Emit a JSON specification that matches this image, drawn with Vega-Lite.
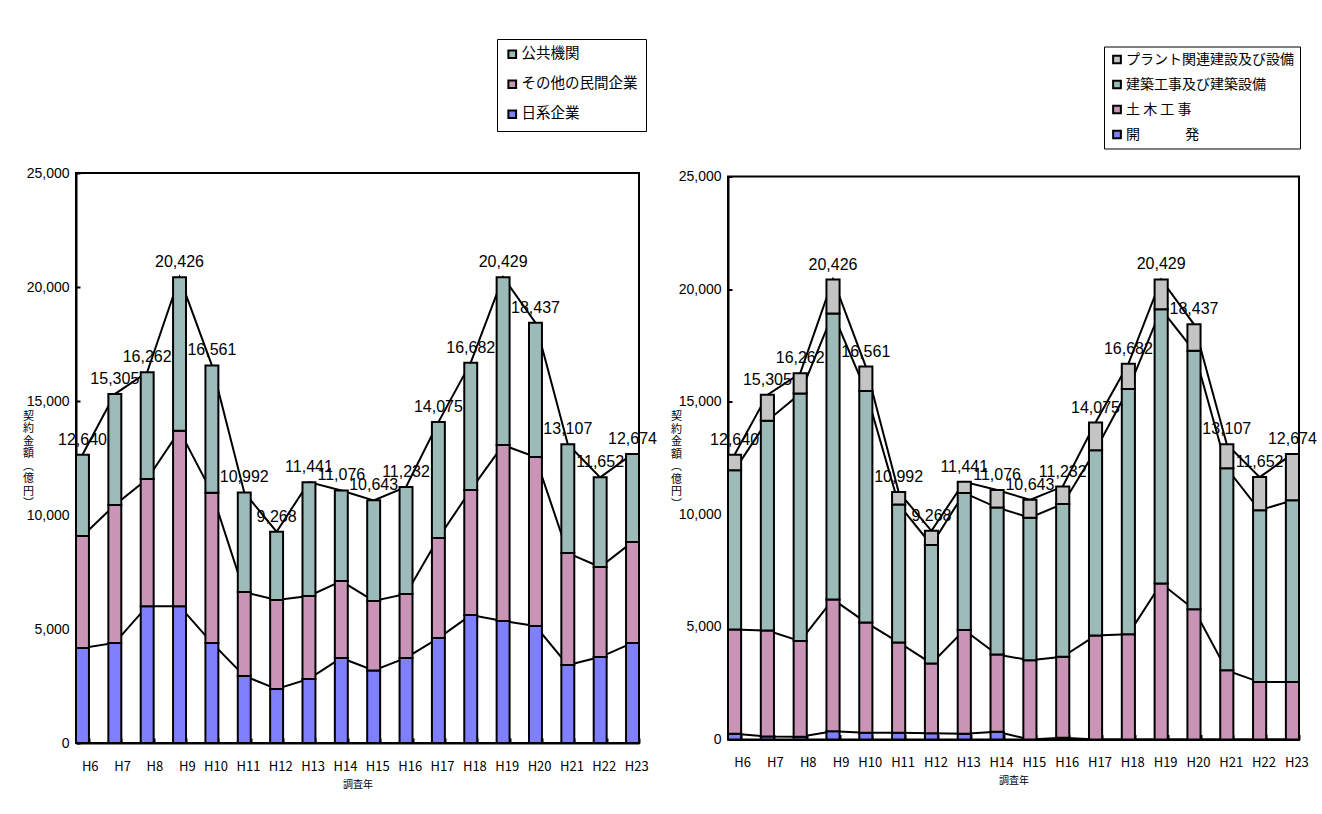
{
  "$schema": "https://vega.github.io/schema/vega-lite/v6.json",
  "background": "white",
  "padding": {"left": 21, "top": 37, "right": 5, "bottom": 5},
  "spacing": 89,
  "bounds": "flush",
  "center": true,
  "datasets": {
    "left": [
      {"yr": "H6", "s": "日系企業", "k": 1, "v": 4170}, {"yr": "H6", "s": "その他の民間企業", "k": 2, "v": 4910}, {"yr": "H6", "s": "公共機関", "k": 3, "v": 3560},
      {"yr": "H7", "s": "日系企業", "k": 1, "v": 4390}, {"yr": "H7", "s": "その他の民間企業", "k": 2, "v": 6050}, {"yr": "H7", "s": "公共機関", "k": 3, "v": 4865},
      {"yr": "H8", "s": "日系企業", "k": 1, "v": 6000}, {"yr": "H8", "s": "その他の民間企業", "k": 2, "v": 5580}, {"yr": "H8", "s": "公共機関", "k": 3, "v": 4682},
      {"yr": "H9", "s": "日系企業", "k": 1, "v": 6000}, {"yr": "H9", "s": "その他の民間企業", "k": 2, "v": 7700}, {"yr": "H9", "s": "公共機関", "k": 3, "v": 6726},
      {"yr": "H10", "s": "日系企業", "k": 1, "v": 4390}, {"yr": "H10", "s": "その他の民間企業", "k": 2, "v": 6590}, {"yr": "H10", "s": "公共機関", "k": 3, "v": 5581},
      {"yr": "H11", "s": "日系企業", "k": 1, "v": 2940}, {"yr": "H11", "s": "その他の民間企業", "k": 2, "v": 3680}, {"yr": "H11", "s": "公共機関", "k": 3, "v": 4372},
      {"yr": "H12", "s": "日系企業", "k": 1, "v": 2370}, {"yr": "H12", "s": "その他の民間企業", "k": 2, "v": 3900}, {"yr": "H12", "s": "公共機関", "k": 3, "v": 2998},
      {"yr": "H13", "s": "日系企業", "k": 1, "v": 2810}, {"yr": "H13", "s": "その他の民間企業", "k": 2, "v": 3640}, {"yr": "H13", "s": "公共機関", "k": 3, "v": 4991},
      {"yr": "H14", "s": "日系企業", "k": 1, "v": 3730}, {"yr": "H14", "s": "その他の民間企業", "k": 2, "v": 3370}, {"yr": "H14", "s": "公共機関", "k": 3, "v": 3976},
      {"yr": "H15", "s": "日系企業", "k": 1, "v": 3180}, {"yr": "H15", "s": "その他の民間企業", "k": 2, "v": 3050}, {"yr": "H15", "s": "公共機関", "k": 3, "v": 4413},
      {"yr": "H16", "s": "日系企業", "k": 1, "v": 3730}, {"yr": "H16", "s": "その他の民間企業", "k": 2, "v": 2810}, {"yr": "H16", "s": "公共機関", "k": 3, "v": 4692},
      {"yr": "H17", "s": "日系企業", "k": 1, "v": 4600}, {"yr": "H17", "s": "その他の民間企業", "k": 2, "v": 4390}, {"yr": "H17", "s": "公共機関", "k": 3, "v": 5085},
      {"yr": "H18", "s": "日系企業", "k": 1, "v": 5610}, {"yr": "H18", "s": "その他の民間企業", "k": 2, "v": 5490}, {"yr": "H18", "s": "公共機関", "k": 3, "v": 5582},
      {"yr": "H19", "s": "日系企業", "k": 1, "v": 5350}, {"yr": "H19", "s": "その他の民間企業", "k": 2, "v": 7720}, {"yr": "H19", "s": "公共機関", "k": 3, "v": 7359},
      {"yr": "H20", "s": "日系企業", "k": 1, "v": 5130}, {"yr": "H20", "s": "その他の民間企業", "k": 2, "v": 7410}, {"yr": "H20", "s": "公共機関", "k": 3, "v": 5897},
      {"yr": "H21", "s": "日系企業", "k": 1, "v": 3420}, {"yr": "H21", "s": "その他の民間企業", "k": 2, "v": 4910}, {"yr": "H21", "s": "公共機関", "k": 3, "v": 4777},
      {"yr": "H22", "s": "日系企業", "k": 1, "v": 3770}, {"yr": "H22", "s": "その他の民間企業", "k": 2, "v": 3950}, {"yr": "H22", "s": "公共機関", "k": 3, "v": 3932},
      {"yr": "H23", "s": "日系企業", "k": 1, "v": 4390}, {"yr": "H23", "s": "その他の民間企業", "k": 2, "v": 4430}, {"yr": "H23", "s": "公共機関", "k": 3, "v": 3854}
    ],
    "right": [
      {"yr": "H6", "s": "開　　　 発", "k": 1, "v": 250}, {"yr": "H6", "s": "土 木 工 事", "k": 2, "v": 4640}, {"yr": "H6", "s": "建築工事及び建築設備", "k": 3, "v": 7070}, {"yr": "H6", "s": "プラント関連建設及び設備", "k": 4, "v": 680},
      {"yr": "H7", "s": "開　　　 発", "k": 1, "v": 130}, {"yr": "H7", "s": "土 木 工 事", "k": 2, "v": 4710}, {"yr": "H7", "s": "建築工事及び建築設備", "k": 3, "v": 9310}, {"yr": "H7", "s": "プラント関連建設及び設備", "k": 4, "v": 1155},
      {"yr": "H8", "s": "開　　　 発", "k": 1, "v": 120}, {"yr": "H8", "s": "土 木 工 事", "k": 2, "v": 4250}, {"yr": "H8", "s": "建築工事及び建築設備", "k": 3, "v": 10990}, {"yr": "H8", "s": "プラント関連建設及び設備", "k": 4, "v": 902},
      {"yr": "H9", "s": "開　　　 発", "k": 1, "v": 370}, {"yr": "H9", "s": "土 木 工 事", "k": 2, "v": 5850}, {"yr": "H9", "s": "建築工事及び建築設備", "k": 3, "v": 12700}, {"yr": "H9", "s": "プラント関連建設及び設備", "k": 4, "v": 1506},
      {"yr": "H10", "s": "開　　　 発", "k": 1, "v": 300}, {"yr": "H10", "s": "土 木 工 事", "k": 2, "v": 4900}, {"yr": "H10", "s": "建築工事及び建築設備", "k": 3, "v": 10280}, {"yr": "H10", "s": "プラント関連建設及び設備", "k": 4, "v": 1081},
      {"yr": "H11", "s": "開　　　 発", "k": 1, "v": 300}, {"yr": "H11", "s": "土 木 工 事", "k": 2, "v": 4010}, {"yr": "H11", "s": "建築工事及び建築設備", "k": 3, "v": 6130}, {"yr": "H11", "s": "プラント関連建設及び設備", "k": 4, "v": 552},
      {"yr": "H12", "s": "開　　　 発", "k": 1, "v": 280}, {"yr": "H12", "s": "土 木 工 事", "k": 2, "v": 3100}, {"yr": "H12", "s": "建築工事及び建築設備", "k": 3, "v": 5260}, {"yr": "H12", "s": "プラント関連建設及び設備", "k": 4, "v": 628},
      {"yr": "H13", "s": "開　　　 発", "k": 1, "v": 250}, {"yr": "H13", "s": "土 木 工 事", "k": 2, "v": 4610}, {"yr": "H13", "s": "建築工事及び建築設備", "k": 3, "v": 6090}, {"yr": "H13", "s": "プラント関連建設及び設備", "k": 4, "v": 491},
      {"yr": "H14", "s": "開　　　 発", "k": 1, "v": 340}, {"yr": "H14", "s": "土 木 工 事", "k": 2, "v": 3430}, {"yr": "H14", "s": "建築工事及び建築設備", "k": 3, "v": 6530}, {"yr": "H14", "s": "プラント関連建設及び設備", "k": 4, "v": 776},
      {"yr": "H15", "s": "開　　　 発", "k": 1, "v": 0}, {"yr": "H15", "s": "土 木 工 事", "k": 2, "v": 3520}, {"yr": "H15", "s": "建築工事及び建築設備", "k": 3, "v": 6330}, {"yr": "H15", "s": "プラント関連建設及び設備", "k": 4, "v": 793},
      {"yr": "H16", "s": "開　　　 発", "k": 1, "v": 80}, {"yr": "H16", "s": "土 木 工 事", "k": 2, "v": 3590}, {"yr": "H16", "s": "建築工事及び建築設備", "k": 3, "v": 6790}, {"yr": "H16", "s": "プラント関連建設及び設備", "k": 4, "v": 772},
      {"yr": "H17", "s": "開　　　 発", "k": 1, "v": 0}, {"yr": "H17", "s": "土 木 工 事", "k": 2, "v": 4620}, {"yr": "H17", "s": "建築工事及び建築設備", "k": 3, "v": 8220}, {"yr": "H17", "s": "プラント関連建設及び設備", "k": 4, "v": 1235},
      {"yr": "H18", "s": "開　　　 発", "k": 1, "v": 0}, {"yr": "H18", "s": "土 木 工 事", "k": 2, "v": 4670}, {"yr": "H18", "s": "建築工事及び建築設備", "k": 3, "v": 10890}, {"yr": "H18", "s": "プラント関連建設及び設備", "k": 4, "v": 1122},
      {"yr": "H19", "s": "開　　　 発", "k": 1, "v": 0}, {"yr": "H19", "s": "土 木 工 事", "k": 2, "v": 6930}, {"yr": "H19", "s": "建築工事及び建築設備", "k": 3, "v": 12180}, {"yr": "H19", "s": "プラント関連建設及び設備", "k": 4, "v": 1319},
      {"yr": "H20", "s": "開　　　 発", "k": 1, "v": 0}, {"yr": "H20", "s": "土 木 工 事", "k": 2, "v": 5780}, {"yr": "H20", "s": "建築工事及び建築設備", "k": 3, "v": 11480}, {"yr": "H20", "s": "プラント関連建設及び設備", "k": 4, "v": 1177},
      {"yr": "H21", "s": "開　　　 発", "k": 1, "v": 0}, {"yr": "H21", "s": "土 木 工 事", "k": 2, "v": 3070}, {"yr": "H21", "s": "建築工事及び建築設備", "k": 3, "v": 8970}, {"yr": "H21", "s": "プラント関連建設及び設備", "k": 4, "v": 1067},
      {"yr": "H22", "s": "開　　　 発", "k": 1, "v": 0}, {"yr": "H22", "s": "土 木 工 事", "k": 2, "v": 2550}, {"yr": "H22", "s": "建築工事及び建築設備", "k": 3, "v": 7630}, {"yr": "H22", "s": "プラント関連建設及び設備", "k": 4, "v": 1472},
      {"yr": "H23", "s": "開　　　 発", "k": 1, "v": 0}, {"yr": "H23", "s": "土 木 工 事", "k": 2, "v": 2550}, {"yr": "H23", "s": "建築工事及び建築設備", "k": 3, "v": 8070}, {"yr": "H23", "s": "プラント関連建設及び設備", "k": 4, "v": 2054}
    ],
    "totals": [
      {"yr": "H6", "t": 12640}, {"yr": "H7", "t": 15305}, {"yr": "H8", "t": 16262}, {"yr": "H9", "t": 20426},
      {"yr": "H10", "t": 16561}, {"yr": "H11", "t": 10992}, {"yr": "H12", "t": 9268}, {"yr": "H13", "t": 11441},
      {"yr": "H14", "t": 11076}, {"yr": "H15", "t": 10643}, {"yr": "H16", "t": 11232}, {"yr": "H17", "t": 14075},
      {"yr": "H18", "t": 16682}, {"yr": "H19", "t": 20429}, {"yr": "H20", "t": 18437}, {"yr": "H21", "t": 13107},
      {"yr": "H22", "t": 11652}, {"yr": "H23", "t": 12674}
    ]
  },
  "hconcat": [
    {
      "width": 563,
      "height": 570,
      "layer": [
        {
          "data": {"name": "left"},
          "transform": [{"stack": "v", "groupby": ["yr"], "sort": [{"field": "k"}], "as": ["v0", "v1"]}],
          "mark": {"type": "line", "color": "black", "strokeWidth": 2},
          "encoding": {
            "x": {"field": "yr", "type": "nominal", "sort": ["H6","H7","H8","H9","H10","H11","H12","H13","H14","H15","H16","H17","H18","H19","H20","H21","H22","H23"]},
            "y": {"field": "v1", "type": "quantitative"},
            "detail": {"field": "s"}
          }
        },
        {
          "data": {"name": "left"},
          "transform": [{"stack": "v", "groupby": ["yr"], "sort": [{"field": "k"}], "as": ["v0", "v1"]}],
          "mark": {"type": "bar", "stroke": "black", "strokeWidth": 2},
          "encoding": {
            "x": {"field": "yr", "type": "nominal", "sort": ["H6","H7","H8","H9","H10","H11","H12","H13","H14","H15","H16","H17","H18","H19","H20","H21","H22","H23"],
              "scale": {"paddingInner": 0.6, "paddingOuter": 0},
              "axis": {"title": "調査年", "labelAngle": 0, "tickBand": "extent", "tickSize": -5, "labelOffset": 15.6, "labelPadding": 28, "labelFontSize": 13, "titleFontSize": 10, "titlePadding": 6}},
            "y": {"field": "v0", "type": "quantitative",
              "scale": {"domain": [0, 25000], "nice": false},
              "axis": {"values": [0, 5000, 10000, 15000, 20000, 25000], "format": ",.0f", "tickSize": -4, "labelPadding": 11, "labelFontSize": 14, "labelFont": "Liberation Sans",
                "title": ["契", "約", "金", "額", "︵", "億", "円", "︶"], "titleAngle": 0, "titleX": -48, "titleY": 237, "titleAlign": "center", "titleBaseline": "top", "titleFontSize": 11, "titleLineHeight": 12.5}},
            "y2": {"field": "v1"},
            "color": {"field": "s", "type": "nominal",
              "scale": {"domain": ["公共機関", "その他の民間企業", "日系企業"], "range": ["#9BBAB8", "#C994B6", "#8080FF"]},
              "legend": {"title": null, "orient": "none", "legendX": 421, "legendY": -134, "strokeColor": "black", "padding": 8, "labelFontSize": 14.5, "rowPadding": 13, "labelOffset": 2,
                "symbolType": "square", "symbolSize": 60, "symbolStrokeColor": "black", "symbolStrokeWidth": 2, "labelLimit": 300}}
          }
        },
        {
          "data": {"name": "totals"},
          "mark": {"type": "text", "baseline": "bottom", "dy": -7, "fontSize": 16, "font": "Liberation Sans", "color": "black"},
          "encoding": {
            "x": {"field": "yr", "type": "nominal", "sort": ["H6","H7","H8","H9","H10","H11","H12","H13","H14","H15","H16","H17","H18","H19","H20","H21","H22","H23"]},
            "y": {"field": "t", "type": "quantitative"},
            "text": {"field": "t", "type": "quantitative", "format": ","}
          }
        }
      ]
    },
    {
      "width": 571,
      "height": 563,
      "layer": [
        {
          "data": {"name": "right"},
          "transform": [{"stack": "v", "groupby": ["yr"], "sort": [{"field": "k"}], "as": ["v0", "v1"]}],
          "mark": {"type": "line", "color": "black", "strokeWidth": 2},
          "encoding": {
            "x": {"field": "yr", "type": "nominal", "sort": ["H6","H7","H8","H9","H10","H11","H12","H13","H14","H15","H16","H17","H18","H19","H20","H21","H22","H23"]},
            "y": {"field": "v1", "type": "quantitative"},
            "detail": {"field": "s"}
          }
        },
        {
          "data": {"name": "right"},
          "transform": [{"stack": "v", "groupby": ["yr"], "sort": [{"field": "k"}], "as": ["v0", "v1"]}],
          "mark": {"type": "bar", "stroke": "black", "strokeWidth": 2},
          "encoding": {
            "x": {"field": "yr", "type": "nominal", "sort": ["H6","H7","H8","H9","H10","H11","H12","H13","H14","H15","H16","H17","H18","H19","H20","H21","H22","H23"],
              "scale": {"paddingInner": 0.6, "paddingOuter": 0},
              "axis": {"title": "調査年", "labelAngle": 0, "tickBand": "extent", "tickSize": -5, "labelOffset": 15.9, "labelPadding": 28, "labelFontSize": 13, "titleFontSize": 10, "titlePadding": 6}},
            "y": {"field": "v0", "type": "quantitative",
              "scale": {"domain": [0, 25000], "nice": false},
              "axis": {"values": [0, 5000, 10000, 15000, 20000, 25000], "format": ",.0f", "tickSize": -4, "labelPadding": 11, "labelFontSize": 14, "labelFont": "Liberation Sans",
                "title": ["契", "約", "金", "額", "︵", "億", "円", "︶"], "titleAngle": 0, "titleX": -52, "titleY": 234, "titleAlign": "center", "titleBaseline": "top", "titleFontSize": 11, "titleLineHeight": 12.5}},
            "y2": {"field": "v1"},
            "color": {"field": "s", "type": "nominal",
              "scale": {"domain": ["プラント関連建設及び設備", "建築工事及び建築設備", "土 木 工 事", "開　　　 発"], "range": ["#C4C4C4", "#9BBAB8", "#C994B6", "#8080FF"]},
              "legend": {"title": null, "orient": "none", "legendX": 376, "legendY": -130, "strokeColor": "black", "padding": 6, "labelFontSize": 14, "rowPadding": 9, "labelOffset": 2,
                "symbolType": "square", "symbolSize": 60, "symbolStrokeColor": "black", "symbolStrokeWidth": 2, "labelLimit": 300}}
          }
        },
        {
          "data": {"name": "totals"},
          "mark": {"type": "text", "baseline": "bottom", "dy": -7, "fontSize": 16, "font": "Liberation Sans", "color": "black"},
          "encoding": {
            "x": {"field": "yr", "type": "nominal", "sort": ["H6","H7","H8","H9","H10","H11","H12","H13","H14","H15","H16","H17","H18","H19","H20","H21","H22","H23"]},
            "y": {"field": "t", "type": "quantitative"},
            "text": {"field": "t", "type": "quantitative", "format": ","}
          }
        }
      ],
      "resolve": {"scale": {"color": "independent"}}
    }
  ],
  "resolve": {"scale": {"color": "independent", "x": "independent", "y": "independent"}},
  "config": {
    "font": "Noto Sans CJK JP",
    "view": {"stroke": "black", "strokeWidth": 2},
    "axis": {"domainColor": "black", "domainWidth": 2, "tickColor": "black", "tickWidth": 2, "labelColor": "black", "titleColor": "black", "grid": false,
      "labelFont": "Noto Sans CJK JP", "titleFont": "Noto Sans CJK JP", "titleFontWeight": "normal"},
    "legend": {"labelFont": "Noto Sans CJK JP", "labelColor": "black"}
  }
}
